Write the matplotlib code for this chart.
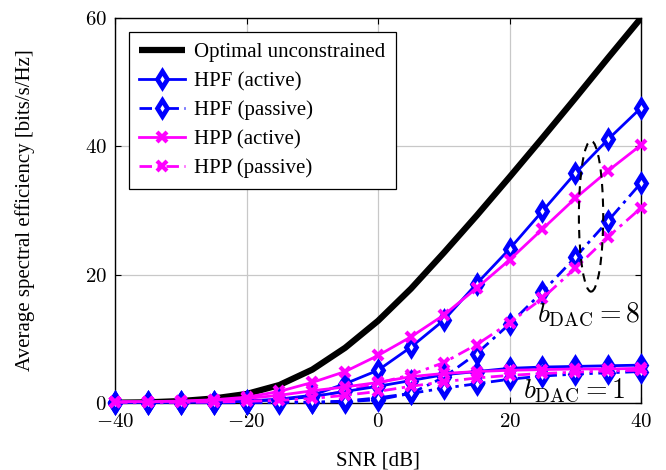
import matplotlib
matplotlib.use("Agg")
import matplotlib.pyplot as plt
from matplotlib.patches import Ellipse
import numpy as np

plt.rcParams['font.family'] = ['Liberation Serif', 'DejaVu Serif']
plt.rcParams['mathtext.fontset'] = 'cm'

snr = [-40, -35, -30, -25, -20, -15, -10, -5, 0, 5, 10, 15, 20, 25, 30, 35, 40]

optimal = [0.05, 0.1, 0.3, 0.7, 1.4, 2.8, 5.2, 8.6, 12.8, 17.8, 23.4, 29.2, 35.2, 41.3, 47.5, 53.8, 60.0]

hpf_active_8 = [0.1, 0.1, 0.15, 0.2, 0.3, 0.6, 1.2, 3.0, 5.1, 8.7, 12.9, 18.6, 24.0, 29.9, 35.8, 41.1, 46.0]
hpp_active_8 = [0.2, 0.2, 0.3, 0.5, 0.9, 1.8, 3.2, 4.9, 7.4, 10.3, 13.7, 17.9, 22.3, 27.1, 31.9, 36.2, 40.2]
hpf_passive_8 = [0.05, 0.05, 0.05, 0.05, 0.05, 0.1, 0.1, 0.2, 0.5, 1.5, 4.0, 7.7, 12.3, 17.3, 22.7, 28.4, 34.3]
hpp_passive_8 = [0.1, 0.1, 0.1, 0.2, 0.3, 0.5, 1.0, 1.8, 3.1, 4.4, 6.3, 9.1, 12.5, 16.3, 21.0, 25.9, 30.4]

hpf_active_1 = [0.1, 0.1, 0.1, 0.15, 0.25, 0.5, 1.0, 1.8, 2.6, 3.5, 4.4, 4.9, 5.4, 5.6, 5.7, 5.8, 5.9]
hpp_active_1 = [0.2, 0.2, 0.25, 0.4, 0.7, 1.2, 1.9, 2.5, 3.2, 4.1, 4.6, 4.9, 5.1, 5.2, 5.3, 5.3, 5.4]
hpf_passive_1 = [0.05, 0.05, 0.05, 0.05, 0.05, 0.05, 0.1, 0.3, 0.8, 1.5, 2.3, 3.0, 3.7, 4.2, 4.5, 4.7, 4.9]
hpp_passive_1 = [0.1, 0.1, 0.1, 0.15, 0.25, 0.4, 0.7, 1.2, 1.8, 2.6, 3.3, 3.9, 4.3, 4.6, 4.8, 5.0, 5.1]

labels = ["Optimal unconstrained", "HPF (active)", "HPF (passive)", "HPP (active)", "HPP (passive)"]
xticks = [-40, -20, 0, 20, 40]
yticks = [0, 20, 40, 60]

BLUE = '#0000ff'
MAG = '#ff00ff'
dashdot = (0, (4.5, 2.0, 1.2, 2.0))

fig = plt.figure(figsize=(6.66, 4.70), dpi=100)
ax = fig.add_axes([0.1727, 0.1426, 0.7898, 0.8191])

ax.plot(snr, optimal, color='black', lw=4.5, label=labels[0], zorder=3, solid_capstyle='butt')

common = dict(clip_on=False, zorder=4)
dkw = dict(marker='d', markersize=8.5, markerfacecolor='white', markeredgewidth=3.4)
xkw = dict(marker='x', markersize=7, markeredgewidth=3.0)

ax.plot(snr, hpf_active_8, color=BLUE, lw=2.0, label=labels[1], **dkw, **common)
ax.plot(snr, hpf_passive_8, color=BLUE, lw=2.0, ls=dashdot, label=labels[2], **dkw, **common)
ax.plot(snr, hpp_active_8, color=MAG, lw=2.0, label=labels[3], **xkw, **common)
ax.plot(snr, hpp_passive_8, color=MAG, lw=2.0, ls=dashdot, label=labels[4], **xkw, **common)

ax.plot(snr, hpf_active_1, color=BLUE, lw=2.0, **dkw, **common)
ax.plot(snr, hpf_passive_1, color=BLUE, lw=2.0, ls=dashdot, **dkw, **common)
ax.plot(snr, hpp_active_1, color=MAG, lw=2.0, **xkw, **common)
ax.plot(snr, hpp_passive_1, color=MAG, lw=2.0, ls=dashdot, **xkw, **common)

ax.add_patch(Ellipse((32.4, 29.1), 3.7, 23.5, fill=False, ls=(0, (4, 3)), lw=1.5, color='black', zorder=5))

ax.text(39.8, 12.6, r'$b_{\rm DAC} = 8$', ha='right', va='baseline', fontsize=20, zorder=6)
ax.text(37.6, 0.8, r'$b_{\rm DAC} = 1$', ha='right', va='baseline', fontsize=20, zorder=6)

ax.set_xlim(-40, 40)
ax.set_ylim(0, 60)
ax.set_xticks(xticks)
ax.set_yticks(yticks)
ax.set_xticklabels([r'$%d$' % v for v in xticks])
ax.set_yticklabels([r'$%d$' % v for v in yticks])
ax.tick_params(direction='in', top=True, right=True, labelsize=15, length=4, width=0.8)
ax.tick_params(axis='x', pad=7)
ax.tick_params(axis='y', pad=6)
ax.grid(True, color='#c8c8c8', lw=0.9)
ax.set_axisbelow(True)
for s in ax.spines.values():
    s.set_linewidth(1.0)

ax.set_xlabel('SNR [dB]', fontsize=15, labelpad=14)
ax.set_ylabel('Average spectral efficiency [bits/s/Hz]', fontsize=15, labelpad=36)

leg = ax.legend(loc='upper left', bbox_to_anchor=(0.026, 0.963), fontsize=15, frameon=True,
                fancybox=False, edgecolor='black', framealpha=1, handlelength=2.2,
                borderpad=0.5, labelspacing=0.45, handletextpad=0.45, borderaxespad=0)
leg.get_frame().set_linewidth(0.9)

fig.savefig('out.png', dpi=100)
